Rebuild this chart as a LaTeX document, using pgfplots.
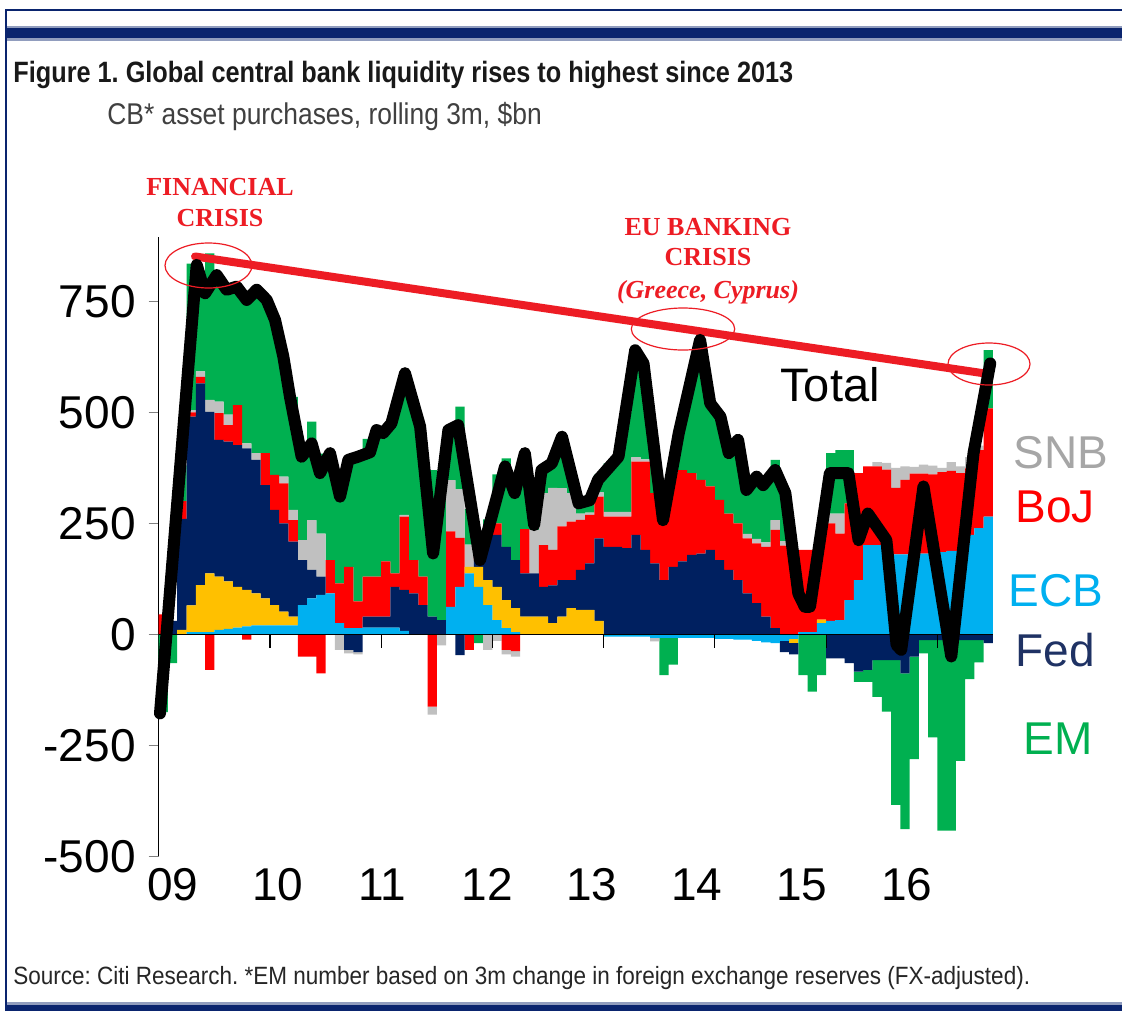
\documentclass[border=0pt]{standalone}
\usepackage{fontspec}
\setmainfont{Liberation Sans}
\newfontfamily\narrowfont[FakeStretch=0.88]{Liberation Sans}
\newfontfamily\footfont[FakeStretch=0.9]{Liberation Sans}
\newfontfamily\titlefont[FakeStretch=0.86]{Liberation Sans}
\newfontfamily\timesfont{Liberation Serif}
\usepackage{pgfplots}
\usepackage{pgfplotstable}
\pgfplotsset{compat=1.18}
\frenchspacing

\definecolor{emgreen}{RGB}{0,176,80}
\definecolor{snbgrey}{RGB}{192,192,192}
\definecolor{bojred}{RGB}{255,0,0}
\definecolor{fednavy}{RGB}{0,32,96}
\definecolor{ecbblue}{RGB}{0,176,240}
\definecolor{boeyellow}{RGB}{255,192,0}
\definecolor{trendred}{RGB}{237,28,36}
\definecolor{framenavy}{RGB}{10,36,110}
\definecolor{snbtext}{RGB}{166,166,166}
\definecolor{fedtext}{RGB}{31,50,100}

% rolling 3m purchases by bank, $bn, one row per month from Jan 2009 (k=0)
\pgfplotstableread{
k ecb yel fed boj snb em
0 0 0 0 45 0 -175
1 0 0 30 0 0 -65
2 0 10 250 40 0 80
3 5 60 425 10 5 330
4 5 106 454 15 12 208
5 5 132 364 -80 27 330
6 10 120 308 60 26 276
7 12 107 315 37 24 281
8 15 92 319 90 0 267
9 18 82 319 -12 11 323
10 20 72 301 0 15 368
11 20 61 255 72 0 345
12 20 46 214 79 0 349
13 20 31 199 90 15 270
14 20 20 169 48 23 255
15 66 0 101 -50 45 208
16 81 0 64 -50 112 222
17 89 0 41 -88 97 180
18 92 0 0 75 0 241
19 25 0 0 90 -35 195
20 14 0 -35 138 -8 241
21 14 0 -40 60 -5 326
22 15 0 25 90 0 310
23 15 0 25 90 0 330
24 15 0 25 124 0 291
25 15 0 92 30 0 360
26 8 0 92 165 4 316
27 0 0 92 75 0 363
28 0 0 66 64 0 270
29 0 0 40 -163 -18 330
30 0 0 32 0 -25 280
31 62 0 0 170 115 110
32 107 0 -47 110 110 186
33 137 15 0 -35 50 80
34 107 45 15 20 0 -20
35 66 56 102 15 -35 20
36 32 75 117 26 -15 110
37 14 63 120 -35 -10 199
38 5 54 108 -38 -12 170
39 0 40 97 100 0 170
40 0 40 97 0 98 10
41 0 40 67 94 117 52
42 0 25 85 80 140 56
43 0 40 82 121 86 116
44 0 59 63 132 64 52
45 0 55 90 113 14 23
46 0 55 105 109 5 40
47 0 30 186 94 10 40
48 -5 0 197 68 11 109
49 -5 0 197 68 11 124
50 -5 0 194 71 11 224
51 -5 0 224 165 10 241
52 -5 0 190 199 5 183
53 -8 0 160 158 -8 82
54 -8 0 122 135 0 -84
55 -8 0 152 211 0 -60
56 -8 0 164 206 0 130
57 -8 0 179 184 0 217
58 -8 0 182 166 0 315
59 -8 0 190 143 0 187
60 -10 0 167 136 0 187
61 -10 0 145 127 0 148
62 -12 0 122 128 0 188
63 -12 0 92 124 10 114
64 -15 0 70 135 10 135
65 -18 0 40 157 10 133
66 -20 0 14 221 22 136
67 -15 0 -25 200 10 100
68 -10 -10 -25 170 0 0
69 5 0 0 185 0 -92
70 5 0 0 185 0 -129
71 25 8 0 217 0 -92
72 30 0 -54 220 22 136
73 32 0 -54 195 45 143
74 77 0 -65 218 0 120
75 122 0 -84 241 0 -23
76 201 0 -80 177 0 -27
77 201 0 -58 177 10 -83
78 201 0 -58 170 15 -116
79 180 0 -58 150 45 -326
80 180 0 -88 168 30 -351
81 182 0 -50 180 15 -231
82 182 0 -13 180 20 -30
83 185 0 -13 175 20 -219
84 185 0 -13 180 10 -429
85 188 0 -13 180 20 -429
86 188 0 -13 175 15 -272
87 224 0 -13 150 25 -88
88 239 0 -13 176 10 -50
89 265 0 -20 244 0 131
}\cbdata

% total line, x in months from Jan 2009
\pgfplotstableread{
x total
0.14 -178
4.1 832
5.0 768
6.26 809
7.33 776
8.41 783
9.49 753
10.57 776
11.65 753
12.55 708
13.45 625
14.16 535
15.06 438
15.42 400
16.5 430
17.4 363
18.48 408
19.56 310
20.46 393
21.5 400
22.8 410
23.5 460
24.2 453
25.1 475
26.57 588
28.2 468
29.6 182
31.25 460
32.3 471
34.66 167
37.36 378
38.4 318
39.5 408
40.5 246
41.3 370
42.4 385
43.5 445
45.3 295
46.5 302
47.4 348
49.6 400
51.4 640
52.3 610
54.4 257
56.1 453
58.4 663
59.5 520
60.6 490
61.5 408
62.5 438
63.4 325
64.5 355
65.2 336
66.5 370
67.6 318
69.0 92
69.7 62
70.26 62
72.4 363
74.4 363
75.5 212
76.5 272
78.5 212
79.6 -24
80.1 -35
82.5 333
85.5 -50
87.9 408
89.7 610
}\totalline

\pgfplotsset{
  cbaxis/.style={
    scale only axis, width=417.15pt, height=309.69pt,
    at={(79.35pt,-428.15pt)}, anchor=south west,
    xmin=0, xmax=90, ymin=-500, ymax=895,
  },
}

\begin{document}
\begin{tikzpicture}
\begin{scope}[x=0.5pt,y=-0.5pt]
  \useasboundingbox (0,0) rectangle (1122,1011);
  \fill[white] (0,0) rectangle (1122,1011);
  % frame
  \draw[framenavy, line width=1.3pt] (6,1011) -- (6,10) -- (1122,10);
  \fill[framenavy!45] (7,26) rectangle (1122,41);
  \fill[framenavy] (7,28.5) rectangle (1122,38.5);
  \fill[framenavy!45] (7,1002) rectangle (1122,1011);
  \fill[framenavy] (7,1004.5) rectangle (1122,1011);
  % titles
  \node[anchor=base west, inner sep=0, text=black!90] at (13,83)
    {\fontsize{14.7}{15}\titlefont\bfseries Figure 1. Global central bank liquidity rises to highest since 2013};
  \node[anchor=base west, inner sep=0, text=black!75] at (107,124)
    {\fontsize{15}{15}\narrowfont CB* asset purchases, rolling 3m, \$bn};
  \node[anchor=base west, inner sep=0, text=black!85] at (13,984)
    {\fontsize{12.5}{12.5}\footfont Source: Citi Research. *EM number based on 3m change in foreign exchange reserves (FX-adjusted).};
\end{scope}

% positive parts, stacked upwards
\begin{axis}[cbaxis, ybar stacked, bar width=1,
  axis y line*=left, axis x line*=bottom,
  x axis line style={draw=none}, xtick style={draw=none},
  xtick={1.54,12.87,24.09,35.42,46.74,58.07,69.39,80.72},
  xticklabels={09,10,11,12,13,14,15,16},
  ytick={-500,-250,0,250,500,750},
  yticklabels={-500,-250,0,250,500,750},
  tick align=outside, major tick length=5pt,
  y axis line style={line width=0.6pt}, ytick style={line width=0.6pt},
  tick label style={font=\fontsize{23}{23}\selectfont},
  xticklabel style={yshift=2.5pt}, yticklabel style={xshift=-3pt}]
\addplot[fill=ecbblue, draw=none] table[x expr=\thisrow{k}+0.5, y expr={max(\thisrow{ecb},0)}]{\cbdata};
\addplot[fill=boeyellow, draw=none] table[x expr=\thisrow{k}+0.5, y expr={max(\thisrow{yel},0)}]{\cbdata};
\addplot[fill=fednavy, draw=none] table[x expr=\thisrow{k}+0.5, y expr={max(\thisrow{fed},0)}]{\cbdata};
\addplot[fill=bojred, draw=none] table[x expr=\thisrow{k}+0.5, y expr={max(\thisrow{boj},0)}]{\cbdata};
\addplot[fill=snbgrey, draw=none] table[x expr=\thisrow{k}+0.5, y expr={max(\thisrow{snb},0)}]{\cbdata};
\addplot[fill=emgreen, draw=none] table[x expr=\thisrow{k}+0.5, y expr={max(\thisrow{em},0)}]{\cbdata};
\end{axis}

% negative parts, stacked downwards
\begin{axis}[cbaxis, ybar stacked, bar width=1, hide axis]
\addplot[fill=ecbblue, draw=none] table[x expr=\thisrow{k}+0.5, y expr={min(\thisrow{ecb},0)}]{\cbdata};
\addplot[fill=boeyellow, draw=none] table[x expr=\thisrow{k}+0.5, y expr={min(\thisrow{yel},0)}]{\cbdata};
\addplot[fill=fednavy, draw=none] table[x expr=\thisrow{k}+0.5, y expr={min(\thisrow{fed},0)}]{\cbdata};
\addplot[fill=bojred, draw=none] table[x expr=\thisrow{k}+0.5, y expr={min(\thisrow{boj},0)}]{\cbdata};
\addplot[fill=snbgrey, draw=none] table[x expr=\thisrow{k}+0.5, y expr={min(\thisrow{snb},0)}]{\cbdata};
\addplot[fill=emgreen, draw=none] table[x expr=\thisrow{k}+0.5, y expr={min(\thisrow{em},0)}]{\cbdata};
\end{axis}

% zero line, trend line and total
\begin{axis}[cbaxis, hide axis, clip=false]
\draw[black, line width=0.8pt] (axis cs:0,0) -- (axis cs:90,0);
\pgfplotsinvokeforeach{12,24,36,48,60,72,84}{
  \draw[black, line width=0.6pt] (axis cs:#1,0) -- ([yshift=-7pt]axis cs:#1,0);
}
\addplot[trendred, line width=4pt, line cap=round] coordinates {(3.92,851) (88.96,588)};
\addplot[black, line width=6pt, line join=round, line cap=round] table[x=x, y=total]{\totalline};
\end{axis}

\begin{scope}[x=0.5pt,y=-0.5pt]
  \draw[trendred, line width=0.6pt] (208.5,265.5) ellipse [x radius=43.5, y radius=22.5];
  \draw[trendred, line width=0.6pt] (683,329) ellipse [x radius=51.7, y radius=21];
  \draw[trendred, line width=0.6pt] (989,364) ellipse [x radius=41, y radius=21];
  \node[text=trendred, align=center, inner sep=0,
        font=\fontsize{13}{15.5}\timesfont\bfseries] at (220,203)
    {FINANCIAL\\CRISIS};
  \node[text=trendred, align=center, inner sep=0,
        font=\fontsize{13}{15}\timesfont\bfseries] at (708,261)
    {EU BANKING\\CRISIS\\[1.5pt]\textit{(Greece, Cyprus)}};
  \node[anchor=west, inner sep=0] at (780,385) {\fontsize{23.5}{24}\selectfont Total};
  \node[anchor=west, inner sep=0, text=snbtext] at (1013,453) {\fontsize{23}{23}\selectfont SNB};
  \node[anchor=west, inner sep=0, text=bojred] at (1015,507) {\fontsize{23}{23}\selectfont BoJ};
  \node[anchor=west, inner sep=0, text=ecbblue] at (1008,591) {\fontsize{23}{23}\selectfont ECB};
  \node[anchor=west, inner sep=0, text=fedtext] at (1015,650) {\fontsize{23}{23}\selectfont Fed};
  \node[anchor=west, inner sep=0, text=emgreen] at (1023,739) {\fontsize{23}{23}\selectfont EM};
\end{scope}
\end{tikzpicture}
\end{document}
